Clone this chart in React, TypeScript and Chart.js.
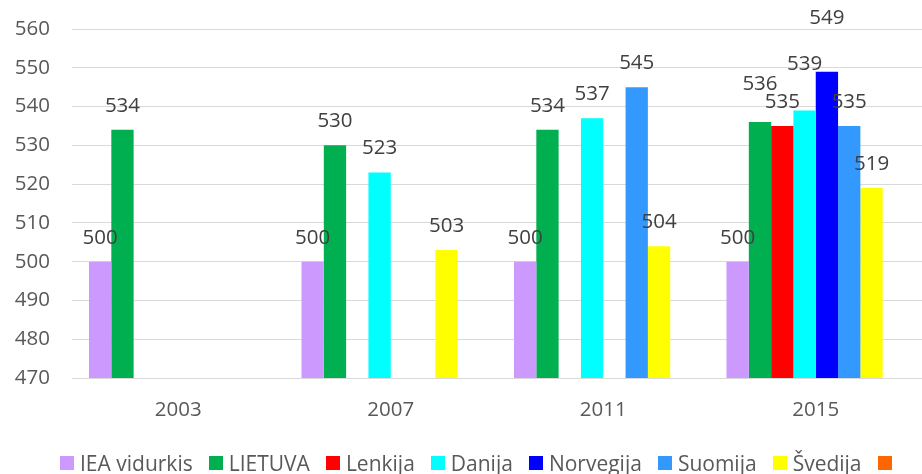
import React, { useEffect, useRef } from "react";
import { Chart, registerables } from "chart.js";

Chart.register(...registerables);

const categories = ["2003", "2007", "2011", "2015"];
const seriesNames = ["IEA vidurkis", "LIETUVA", "Lenkija", "Danija", "Norvegija", "Suomija", "Švedija", ""];
const ieaValues = [500, 500, 500, 500];
const lietuvaValues = [534, 530, 534, 536];
const lenkijaValues = [null, null, null, 535];
const danijaValues = [null, 523, 537, 539];
const norvegijaValues = [null, null, null, 549];
const suomijaValues = [null, null, 545, 535];
const svedijaValues = [null, 503, 504, 519];
const otherValues = [null, null, null, null];
const yMin = 470;
const yMax = 560;
const yStep = 10;

const seriesColors = ["#CC99FF", "#00B050", "#FF0000", "#00FFFF", "#0000FF", "#3399FF", "#FFFF00", "#FF6600"];
const allValues = [ieaValues, lietuvaValues, lenkijaValues, danijaValues, norvegijaValues, suomijaValues, svedijaValues, otherValues];

// extra lift (px) for labels that Excel moved up to avoid overlapping: "dataset:index"
const labelLift: Record<string, number> = { "1:3": 14, "3:3": 22, "4:3": 30 };

const FONT = "'Open Sans', sans-serif";
const TEXT = "#595959";

const valueLabels = {
  id: "valueLabels",
  afterDatasetsDraw(chart: any) {
    const ctx = chart.ctx;
    ctx.save();
    ctx.font = `20.5px ${FONT}`;
    ctx.fillStyle = "#404040";
    ctx.textAlign = "center";
    ctx.textBaseline = "alphabetic";
    chart.data.datasets.forEach((ds: any, di: number) => {
      const meta = chart.getDatasetMeta(di);
      meta.data.forEach((el: any, i: number) => {
        const v = ds.data[i];
        if (v === null || v === undefined) return;
        const lift = labelLift[`${di}:${i}`] || 0;
        ctx.fillText(String(v), el.x, el.y - 18 - lift);
      });
    });
    ctx.restore();
  },
};

export default function App() {
  const ref = useRef<HTMLCanvasElement>(null);
  useEffect(() => {
    if (!ref.current) return;
    const chart = new Chart(ref.current, {
      type: "bar",
      data: {
        labels: categories,
        datasets: allValues.map((vals, i) => ({
          label: seriesNames[i],
          data: vals as any,
          backgroundColor: seriesColors[i],
          borderWidth: 0,
          categoryPercentage: 0.84,
          barPercentage: 1.0,
        })),
      },
      options: {
        animation: false,
        responsive: false,
        devicePixelRatio: 1,
        layout: { padding: { top: 0, left: 0, right: 0, bottom: 0 } },
        plugins: {
          legend: { display: false },
          tooltip: { enabled: false },
        },
        scales: {
          x: {
            grid: { display: false, drawTicks: false },
            border: { display: false },
            ticks: { color: TEXT, font: { family: FONT, size: 20.5 }, padding: 20 },
            afterFit: (s: any) => {
              s.height = 96;
            },
          },
          y: {
            min: yMin,
            max: yMax,
            grid: { color: "#d9d9d9", lineWidth: 1, drawTicks: false },
            border: { display: false },
            ticks: { stepSize: yStep, color: TEXT, font: { family: FONT, size: 20.5 }, padding: 22 },
            afterFit: (s: any) => {
              s.width = 72;
              s.paddingTop = 29;
            },
          },
        },
      },
      plugins: [valueLabels],
    });
    return () => chart.destroy();
  }, []);

  return (
    <div style={{ position: "fixed", left: 0, top: 0, width: 922, height: 474, background: "#fff" }}>
      <canvas ref={ref} width={922} height={474} style={{ display: "block" }} />
      <div
        style={{
          position: "absolute",
          left: 60,
          top: 450,
          display: "flex",
          alignItems: "center",
          fontFamily: FONT,
          fontSize: 21,
          color: TEXT,
          lineHeight: "26px",
          whiteSpace: "nowrap",
        }}
      >
        {seriesNames.map((n, i) => (
          <div key={i} style={{ display: "flex", alignItems: "center", marginRight: 16 }}>
            <span style={{ width: 14, height: 14, background: seriesColors[i], display: "inline-block", marginRight: 6 }} />
            <span>{n}</span>
          </div>
        ))}
      </div>
    </div>
  );
}
